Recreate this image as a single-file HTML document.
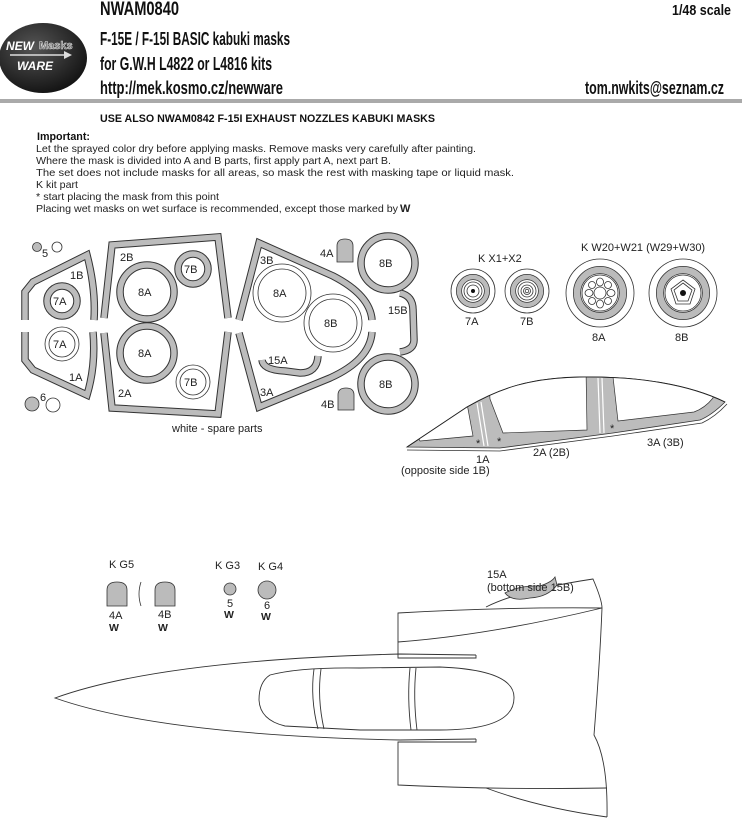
<!DOCTYPE html>
<html><head><meta charset="utf-8"><style>
html,body{margin:0;padding:0;background:#fff;}
svg{display:block;}
.h{font-family:"Liberation Sans Narrow","Liberation Sans",sans-serif;font-weight:bold;fill:#111;}
.t{font-family:"Liberation Sans",sans-serif;font-size:10.5px;fill:#222;}
.l{font-family:"Liberation Sans",sans-serif;font-size:11px;fill:#222;}
.o{fill:none;stroke:#333;stroke-width:7.5;}
.i{fill:none;stroke:#bcbcbc;stroke-width:5.5;}
.w{fill:none;stroke:#333;stroke-width:0.8;}
.k{fill:none;stroke:#333;stroke-width:1;}
</style></head><body>
<svg width="742" height="821" viewBox="0 0 742 821" xmlns="http://www.w3.org/2000/svg">
<defs>
<radialGradient id="lg" cx="0.4" cy="0.35" r="0.7"><stop offset="0" stop-color="#555"/><stop offset="1" stop-color="#111"/></radialGradient>
<clipPath id="cc"><path d="M407,447 L467,407 C500,388 530,378 580,377 C640,376 690,385 725,402 Q712,415 700,420 L613,433 L500,448 Z"/></clipPath>
</defs>
<!-- header -->
<text class="h" x="100" y="15" font-size="19" textLength="79" lengthAdjust="spacingAndGlyphs">NWAM0840</text>
<text class="h" x="672" y="15" font-size="15" textLength="59" lengthAdjust="spacingAndGlyphs">1/48 scale</text>
<text class="h" x="100" y="45" font-size="18" textLength="190" lengthAdjust="spacingAndGlyphs">F-15E / F-15I BASIC kabuki masks</text>
<text class="h" x="100" y="70" font-size="18" textLength="172" lengthAdjust="spacingAndGlyphs">for G.W.H L4822 or L4816 kits</text>
<text class="h" x="100" y="94" font-size="18" textLength="183" lengthAdjust="spacingAndGlyphs">http://mek.kosmo.cz/newware</text>
<text class="h" x="585" y="94" font-size="18" textLength="139" lengthAdjust="spacingAndGlyphs">tom.nwkits@seznam.cz</text>
<ellipse cx="43" cy="58" rx="44" ry="35" fill="url(#lg)"/>
<text x="6" y="50" font-family="Liberation Sans" font-weight="bold" font-style="italic" font-size="12" fill="#fff">NEW</text>
<text x="39" y="49" font-family="Liberation Sans" font-weight="bold" font-size="11" fill="#555" stroke="#ddd" stroke-width="0.6">Masks</text>
<line x1="10" y1="55" x2="68" y2="55" stroke="#ddd" stroke-width="1.5"/>
<path d="M64,51 L72,55 L64,59" fill="#ddd"/>
<text x="17" y="70" font-family="Liberation Sans" font-weight="bold" font-style="italic" font-size="12" fill="#fff">WARE</text>
<rect x="0" y="99" width="742" height="4" fill="#aaa"/>
<text class="h" x="100" y="122" font-size="11" textLength="335" lengthAdjust="spacingAndGlyphs">USE ALSO NWAM0842 F-15I EXHAUST NOZZLES KABUKI MASKS</text>
<text class="h" x="37" y="140" font-size="11" textLength="53" lengthAdjust="spacingAndGlyphs">Important:</text>
<text class="t" x="36" y="152" textLength="440" lengthAdjust="spacingAndGlyphs">Let the sprayed color dry before applying masks. Remove masks very carefully after painting.</text>
<text class="t" x="36" y="164" textLength="355" lengthAdjust="spacingAndGlyphs">Where the mask is divided into A and B parts, first apply part A, next part B.</text>
<text class="t" x="36" y="176" textLength="478" lengthAdjust="spacingAndGlyphs">The set does not include masks for all areas, so mask the rest with masking tape or liquid mask.</text>
<text class="t" x="36" y="188" textLength="42" lengthAdjust="spacingAndGlyphs">K kit part</text>
<text class="t" x="36" y="200" textLength="183" lengthAdjust="spacingAndGlyphs">*  start placing the mask from this point</text>
<text class="t" x="36" y="212" textLength="362" lengthAdjust="spacingAndGlyphs">Placing wet masks on wet surface is recommended, except those marked by</text>
<text x="400" y="212" font-family="Liberation Sans" font-weight="bold" font-size="11" fill="#222">W</text>

<!-- mask sheet -->
<circle cx="37" cy="247" r="4.5" fill="#bbb" stroke="#333" stroke-width="0.8"/>
<circle cx="57" cy="247" r="5" class="w"/>
<text class="l" x="42" y="257" font-size="10">5</text>
<circle cx="32" cy="404" r="7" fill="#bbb" stroke="#333" stroke-width="0.8"/>
<circle cx="53" cy="405" r="7" class="w"/>
<text class="l" x="40" y="401" font-size="10">6</text>

<g>
<path class="o" d="M25,320 L25,292 L33,282 L87,255 Q96,290 94,320"/>
<path class="i" d="M25,320 L25,292 L33,282 L87,255 Q96,290 94,320"/>
<path class="o" d="M25,332 L25,360 L33,370 L87,395 Q96,365 93,332"/>
<path class="i" d="M25,332 L25,360 L33,370 L87,395 Q96,365 93,332"/>
<path class="o" d="M104,318 L112,245 L218,237 L228,318"/>
<path class="i" d="M104,318 L112,245 L218,237 L228,318"/>
<path class="o" d="M104,333 L112,408 L218,414 L228,332"/>
<path class="i" d="M104,333 L112,408 L218,414 L228,332"/>
<path class="o" d="M239,320 L259,243 L333,276 Q370,295 372,320"/>
<path class="i" d="M239,320 L259,243 L333,276 Q370,295 372,320"/>
<path class="o" d="M239,333 L259,407 L330,378 Q370,360 372,332"/>
<path class="i" d="M239,333 L259,407 L330,378 Q370,360 372,332"/>
<path class="o" d="M262,360 Q263,370 285,371 L300,373 Q317,373 318,356"/>
<path class="i" d="M262,360 Q263,370 285,371 L300,373 Q317,373 318,356"/>
<path class="o" d="M400,293 Q413,296 413,310 L414,340 Q414,350 400,352"/>
<path class="i" d="M400,293 Q413,296 413,310 L414,340 Q414,350 400,352"/>
</g>
<!-- rings -->
<g>
<circle cx="62" cy="301" r="15" class="o"/><circle cx="62" cy="301" r="15" class="i" stroke-width="3.5"/>
<circle cx="147" cy="292" r="27" class="o"/><circle cx="147" cy="292" r="27" class="i"/>
<circle cx="147" cy="353" r="27" class="o"/><circle cx="147" cy="353" r="27" class="i"/>
<circle cx="193" cy="269" r="15" class="o"/><circle cx="193" cy="269" r="15" class="i" stroke-width="3.5"/>
<circle cx="388" cy="263" r="27" class="o"/><circle cx="388" cy="263" r="27" class="i"/>
<circle cx="388" cy="384" r="27" class="o"/><circle cx="388" cy="384" r="27" class="i"/>
<circle cx="62" cy="344" r="17" class="w"/><circle cx="62" cy="344" r="13" class="w"/>
<circle cx="193" cy="382" r="17" class="w"/><circle cx="193" cy="382" r="13" class="w"/>
<circle cx="282" cy="293" r="29" class="w"/><circle cx="282" cy="293" r="24" class="w"/>
<circle cx="333" cy="323" r="29" class="w"/><circle cx="333" cy="323" r="24" class="w"/>
<path d="M337,262 L337,246 Q337,239 345,239 Q353,239 353,246 L353,262 Z" fill="#bbb" stroke="#333" stroke-width="0.8"/>
<path d="M338,410 L338,395 Q338,388 346,388 Q354,388 354,395 L354,410 Z" fill="#bbb" stroke="#333" stroke-width="0.8"/>
</g>
<text class="l" x="70" y="279">1B</text>
<text class="l" x="69" y="381">1A</text>
<text class="l" x="53" y="305">7A</text>
<text class="l" x="53" y="348">7A</text>
<text class="l" x="120" y="261">2B</text>
<text class="l" x="118" y="397">2A</text>
<text class="l" x="138" y="296">8A</text>
<text class="l" x="138" y="357">8A</text>
<text class="l" x="184" y="273">7B</text>
<text class="l" x="184" y="386">7B</text>
<text class="l" x="260" y="264">3B</text>
<text class="l" x="260" y="396">3A</text>
<text class="l" x="273" y="297">8A</text>
<text class="l" x="324" y="327">8B</text>
<text class="l" x="268" y="364">15A</text>
<text class="l" x="320" y="257">4A</text>
<text class="l" x="321" y="408">4B</text>
<text class="l" x="379" y="267">8B</text>
<text class="l" x="379" y="388">8B</text>
<text class="l" x="388" y="314">15B</text>
<text class="l" x="172" y="432">white - spare parts</text>

<!-- wheels -->
<g>
<text class="l" x="478" y="262">K  X1+X2</text>
<circle cx="473" cy="291" r="22" class="w"/>
<circle cx="473" cy="291" r="14" fill="none" stroke="#333" stroke-width="6"/>
<circle cx="473" cy="291" r="14" fill="none" stroke="#bbb" stroke-width="4.5"/>
<circle cx="473" cy="291" r="9" class="w"/><circle cx="473" cy="291" r="6" class="w"/>
<circle cx="473" cy="291" r="2" fill="#111"/>
<circle cx="527" cy="291" r="22" class="w"/>
<circle cx="527" cy="291" r="14" fill="none" stroke="#333" stroke-width="6"/>
<circle cx="527" cy="291" r="14" fill="none" stroke="#bbb" stroke-width="4.5"/>
<circle cx="527" cy="291" r="9" class="w"/><circle cx="527" cy="291" r="6" class="w"/>
<circle cx="527" cy="291" r="3.5" class="w"/><circle cx="527" cy="291" r="1.8" class="w"/>
<text class="l" x="465" y="325">7A</text>
<text class="l" x="520" y="325">7B</text>
<text class="l" x="581" y="251">K W20+W21 (W29+W30)</text>
<circle cx="600" cy="293" r="34" class="w"/>
<circle cx="600" cy="293" r="23" fill="none" stroke="#333" stroke-width="8"/>
<circle cx="600" cy="293" r="23" fill="none" stroke="#bbb" stroke-width="6.5"/>
<circle cx="600" cy="293" r="18" class="w"/>
<circle cx="600" cy="293" r="6" class="w"/>
<g class="w">
<ellipse cx="600" cy="282" rx="3.5" ry="4"/><ellipse cx="600" cy="304" rx="3.5" ry="4"/>
<ellipse cx="589" cy="293" rx="4" ry="3.5"/><ellipse cx="611" cy="293" rx="4" ry="3.5"/>
<ellipse cx="592" cy="285" rx="3.5" ry="3.5"/><ellipse cx="608" cy="285" rx="3.5" ry="3.5"/>
<ellipse cx="592" cy="301" rx="3.5" ry="3.5"/><ellipse cx="608" cy="301" rx="3.5" ry="3.5"/>
</g>
<circle cx="683" cy="293" r="34" class="w"/>
<circle cx="683" cy="293" r="23" fill="none" stroke="#333" stroke-width="8"/>
<circle cx="683" cy="293" r="23" fill="none" stroke="#bbb" stroke-width="6.5"/>
<circle cx="683" cy="293" r="18" class="w"/>
<polygon points="683,280 695,289 690,304 676,304 671,289" class="w"/>
<polygon points="683,283 692,290 688,301 678,301 674,290" class="w"/>
<circle cx="683" cy="293" r="3" fill="#111"/>
<text class="l" x="592" y="341">8A</text>
<text class="l" x="675" y="341">8B</text>
</g>

<!-- canopy side -->
<g>
<path d="M407,447 L467,407 C500,388 530,378 580,377 C640,376 690,385 725,402 Q712,415 700,420 L613,433 L500,448 Z" fill="#bcbcbc" stroke="#333" stroke-width="0.8"/>
<path d="M407,450 L500,451 L613,436 L702,423 Q715,417 727,404" class="w"/>
<g clip-path="url(#cc)" fill="#fff" stroke="#333" stroke-width="0.7">
<path d="M420,441 L473,436 L466,398 L400,398 Z"/>
<path d="M503,433 L587,430 L586,368 L488,368 L490,399 Z"/>
<path d="M618,421 L694,412 Q705,408 713,398 L713,368 L612,368 Z"/>
</g>
<path d="M407,447 L467,407 C500,388 530,378 580,377 C640,376 690,385 725,402" fill="none" stroke="#222" stroke-width="0.9"/>
<line x1="477" y1="403" x2="484" y2="446" stroke="#fff" stroke-width="1.2"/>
<line x1="481" y1="402" x2="488" y2="446" stroke="#fff" stroke-width="1.2"/>
<line x1="598" y1="378" x2="600" y2="433" stroke="#fff" stroke-width="1.2"/>
<line x1="602" y1="378" x2="604" y2="433" stroke="#fff" stroke-width="1.2"/>
<text class="l" x="476" y="447" font-size="10">*</text>
<text class="l" x="497" y="445" font-size="10">*</text>
<text class="l" x="610" y="432" font-size="10">*</text>
<text class="l" x="476" y="463">1A</text>
<text class="l" x="401" y="474">(opposite side 1B)</text>
<text class="l" x="533" y="456">2A (2B)</text>
<text class="l" x="647" y="446">3A (3B)</text>
</g>

<!-- small parts -->
<g>
<text class="l" x="109" y="568" font-size="10.5">K G5</text>
<path d="M107,606 L107,590 Q107,582 117,582 Q127,582 127,590 L127,606 Z" fill="#bbb" stroke="#333" stroke-width="0.8"/>
<path d="M155,606 L155,590 Q155,582 165,582 Q175,582 175,590 L175,606 Z" fill="#bbb" stroke="#333" stroke-width="0.8"/>
<path d="M141,582 Q137,594 141,606" class="w"/>
<text class="l" x="109" y="619" font-size="10.5">4A</text>
<text class="l" x="158" y="618" font-size="10.5">4B</text>
<text x="109" y="631" font-family="Liberation Sans" font-weight="bold" font-size="10.5" fill="#222">W</text>
<text x="158" y="631" font-family="Liberation Sans" font-weight="bold" font-size="10.5" fill="#222">W</text>
<text class="l" x="215" y="569" font-size="10.5">K G3</text>
<circle cx="230" cy="589" r="6" fill="#bbb" stroke="#333" stroke-width="0.8"/>
<text class="l" x="227" y="607" font-size="10.5">5</text>
<text x="224" y="618" font-family="Liberation Sans" font-weight="bold" font-size="10.5" fill="#222">W</text>
<text class="l" x="258" y="570" font-size="10.5">K G4</text>
<circle cx="267" cy="590" r="9" fill="#bbb" stroke="#333" stroke-width="0.8"/>
<text class="l" x="264" y="609" font-size="10.5">6</text>
<text x="261" y="620" font-family="Liberation Sans" font-weight="bold" font-size="10.5" fill="#222">W</text>
</g>

<!-- aircraft -->
<g fill="none" stroke="#333" stroke-width="0.9">
<path d="M476,655 L400,654 Q160,660 55,698 Q160,735 400,740 L476,739"/>
<path d="M476,655 L476,658 L398,658 L398,642 Q490,635 602,608"/>
<path d="M398,642 L398,613 Q500,607 602,608"/>
<path d="M486,607 Q520,590 593,579 Q602,600 602,608 Q600,660 594,735 Q608,760 607,817"/>
<path d="M476,739 L476,742 L398,742 L398,785 Q500,790 607,788"/>
<path d="M486,788 Q540,808 607,817"/>
<path d="M270,675 Q300,667 360,668 L440,667 Q515,670 514,698 Q514,730 440,730 L360,730 L285,726 Q260,720 259,700 Q259,682 270,675 Z"/>
<path d="M314,669 Q310,698 318,729 M321,669 Q317,698 324,729"/>
<path d="M410,668 Q407,698 411,730 M416,668 Q413,698 417,730"/>
</g>
<path d="M505,593 Q520,585 540,586 Q552,582 555,577 L557,585 Q548,597 530,598 Q512,602 505,593 Z" fill="#bbb" stroke="#333" stroke-width="0.8"/>
<text class="l" x="487" y="578">15A</text>
<text class="l" x="487" y="591">(bottom side 15B)</text>
</svg>
</body></html>
